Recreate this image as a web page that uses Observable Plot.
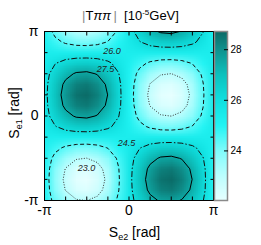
<!DOCTYPE html>
<html><head><meta charset="utf-8">
<script src="https://cdn.jsdelivr.net/npm/d3@7"></script>
<script src="https://cdn.jsdelivr.net/npm/@observablehq/plot@0.6"></script>
<style>
body{margin:0;background:#fff;font-family:"Liberation Sans",Arial,sans-serif;}
#wrap{position:relative;width:261px;height:245px;overflow:hidden;background:#fff;}
#wrap svg{position:absolute;left:0;top:0;}
.t{position:absolute;white-space:nowrap;color:#000;line-height:1;}
</style></head><body>
<div id="wrap"></div>
<script>
const PI = Math.PI;
// |T_pipi| grid: columns S_e2 = -π..π (step π/8), rows S_e1 = π (top) .. -π (bottom)
const nCols = 17, nRows = 17;
const gridRows = [
[25.12,24.23,23.52,23.08,22.99,23.26,23.85,24.66,25.58,26.47,27.18,27.62,27.71,27.44,26.85,26.04,25.12],
[25.22,24.75,24.36,24.12,24.07,24.22,24.54,24.98,25.48,25.95,26.34,26.58,26.63,26.48,26.16,25.72,25.22],
[25.35,25.35,25.35,25.35,25.35,25.35,25.35,25.35,25.35,25.35,25.35,25.35,25.35,25.35,25.35,25.35,25.35],
[25.48,25.95,26.34,26.58,26.63,26.48,26.16,25.72,25.22,24.75,24.36,24.12,24.07,24.22,24.54,24.98,25.48],
[25.58,26.47,27.18,27.62,27.71,27.44,26.85,26.04,25.12,24.23,23.52,23.08,22.99,23.26,23.85,24.66,25.58],
[25.65,26.81,27.74,28.31,28.43,28.08,27.31,26.25,25.05,23.89,22.96,22.39,22.27,22.62,23.39,24.45,25.65],
[25.68,26.93,27.94,28.56,28.68,28.30,27.48,26.32,25.02,23.77,22.76,22.14,22.02,22.40,23.23,24.38,25.68],
[25.65,26.81,27.74,28.31,28.43,28.08,27.31,26.25,25.05,23.89,22.96,22.39,22.27,22.62,23.39,24.45,25.65],
[25.58,26.47,27.18,27.62,27.71,27.44,26.85,26.04,25.12,24.23,23.52,23.08,22.99,23.26,23.85,24.66,25.58],
[25.48,25.95,26.34,26.58,26.63,26.48,26.16,25.72,25.22,24.75,24.36,24.12,24.07,24.22,24.54,24.98,25.48],
[25.35,25.35,25.35,25.35,25.35,25.35,25.35,25.35,25.35,25.35,25.35,25.35,25.35,25.35,25.35,25.35,25.35],
[25.22,24.75,24.36,24.12,24.07,24.22,24.54,24.98,25.48,25.95,26.34,26.58,26.63,26.48,26.16,25.72,25.22],
[25.12,24.23,23.52,23.08,22.99,23.26,23.85,24.66,25.58,26.47,27.18,27.62,27.71,27.44,26.85,26.04,25.12],
[25.05,23.89,22.96,22.39,22.27,22.62,23.39,24.45,25.65,26.81,27.74,28.31,28.43,28.08,27.31,26.25,25.05],
[25.02,23.77,22.76,22.14,22.02,22.40,23.23,24.38,25.68,26.93,27.94,28.56,28.68,28.30,27.48,26.32,25.02],
[25.05,23.89,22.96,22.39,22.27,22.62,23.39,24.45,25.65,26.81,27.74,28.31,28.43,28.08,27.31,26.25,25.05],
[25.12,24.23,23.52,23.08,22.99,23.26,23.85,24.66,25.58,26.47,27.18,27.62,27.71,27.44,26.85,26.04,25.12]
];
const contourLevels = [23.0, 24.5, 26.0, 27.5];
const labelText = ["26.0", "27.5", "24.5", "23.0"];
const labelX = [-0.63, -0.87, -0.09, -1.58];
const labelY = [2.40, 1.73, -0.99, -1.92];
const minorTicks = [-PI, -3*PI/4, -PI/2, -PI/4, 0, PI/4, PI/2, 3*PI/4, PI];
const mainTicks = [-PI, 0, PI];
const mainTickText = ["-π", "0", "π"];
const colorTicks = [24, 26, 28];
const colorRange = [22.04, 28.72];
const colorStops = [22.0, 23.0, 24.0, 25.0, 26.0, 27.0, 28.0, 28.72];
const stopColors = ["#e8ffff", "#bcfefe", "#80fcfc", "#22f4f4", "#10e0e0", "#0cc2be", "#0f928e", "#0b6a66"];

const gridValues = gridRows.flat();
const step = 2 * PI / (nCols - 1);
const ext = {x1: -PI - step/2, x2: PI + step/2, y1: PI + step/2, y2: -PI - step/2, width: nCols, height: nRows};
const colorOpt = {type: "linear", domain: colorStops, range: stopColors, interpolate: "rgb"};
const lineStyle = {
  23.0: {dash: "1,1.6", stroke: "#333"},
  24.5: {dash: "4,2.5", stroke: "#111"},
  26.0: {dash: "6,2,1.5,2", stroke: "#111"},
  27.5: {dash: null, stroke: "#000"}
};
const font = '"Liberation Sans", Arial, sans-serif';
const W = 261, H = 245, mT = 31, mB = 45, mL = 44, mR = 48;
const labels = labelText.map((t, i) => ({t, x: labelX[i], y: labelY[i]}));

const main = Plot.plot({
  width: W, height: H, marginTop: mT, marginBottom: mB, marginLeft: mL, marginRight: mR,
  x: {domain: [-PI, PI]},
  y: {domain: [-PI, PI]},
  color: colorOpt,
  style: {fontFamily: font, background: "white", color: "#000"},
  marks: [
    Plot.raster(gridValues, {...ext, fill: d => d, clip: true}),
    ...contourLevels.map(L => Plot.contour(gridValues, {
      ...ext, value: d => d, thresholds: [L], fill: "none",
      stroke: lineStyle[L].stroke, strokeWidth: 1, strokeDasharray: lineStyle[L].dash, clip: true
    })),
    Plot.text(labels, {x: "x", y: "y", text: "t", fontSize: 9, fontStyle: "italic", fill: "#222", fontFamily: font}),
    Plot.frame({stroke: "#000", strokeWidth: 1}),
    Plot.axisX(minorTicks, {anchor: "bottom", tickSize: -3.5, tickFormat: () => "", label: null}),
    Plot.axisX(minorTicks, {anchor: "top", tickSize: -3.5, tickFormat: () => "", label: null}),
    Plot.axisY(minorTicks, {anchor: "left", tickSize: -3.5, tickFormat: () => "", label: null}),
    Plot.axisY(minorTicks, {anchor: "right", tickSize: -3.5, tickFormat: () => "", label: null}),
    Plot.axisX(mainTicks, {anchor: "bottom", tickSize: 0, tickPadding: 5, fontSize: 14, label: null,
      tickFormat: d => mainTickText[mainTicks.indexOf(d)]}),
    Plot.axisY(mainTicks, {anchor: "left", tickSize: 0, tickPadding: 6, fontSize: 14, label: null,
      tickFormat: d => mainTickText[mainTicks.indexOf(d)]})
  ]
});

const bar = Plot.plot({
  width: W, height: H, marginTop: mT, marginBottom: mB, marginLeft: 214, marginRight: 34,
  x: {domain: [0, 1], axis: null},
  y: {domain: colorRange},
  color: colorOpt,
  style: {fontFamily: font, background: "transparent", color: "#000"},
  marks: [
    Plot.raster({fill: (x, y) => y, x1: 0, x2: 1, y1: colorRange[0], y2: colorRange[1], pixelSize: 1}),
    Plot.frame({stroke: "#8a8a8a", strokeWidth: 1.5}),
    Plot.axisY(colorTicks, {anchor: "right", tickSize: -4, tickPadding: 7, fontSize: 10, label: null})
  ]
});

const wrap = document.getElementById("wrap");
wrap.appendChild(main);
wrap.appendChild(bar);

function addText(html, style) {
  const d = document.createElement("div");
  d.className = "t";
  d.innerHTML = html;
  Object.assign(d.style, style);
  wrap.appendChild(d);
}
addText('<span style="color:#888">|</span>T<i>ππ</i>&thinsp;<span style="color:#888">|</span>&nbsp;&nbsp;[10<span style="font-size:8px;position:relative;top:-5px">-5</span>GeV]',
  {left: "0px", width: W + "px", textAlign: "center", top: "9px", fontSize: "13px"});
addText('S<span style="font-size:9px;position:relative;top:3px">e2</span> [rad]',
  {left: "0px", width: "269px", textAlign: "center", top: "225px", fontSize: "14px"});
addText('S<span style="font-size:9px;position:relative;top:3px">e1</span> [rad]',
  {left: "14px", top: "113px", fontSize: "14px", transform: "translate(-50%,-50%) rotate(-90deg)"});
</script>
</body></html>
